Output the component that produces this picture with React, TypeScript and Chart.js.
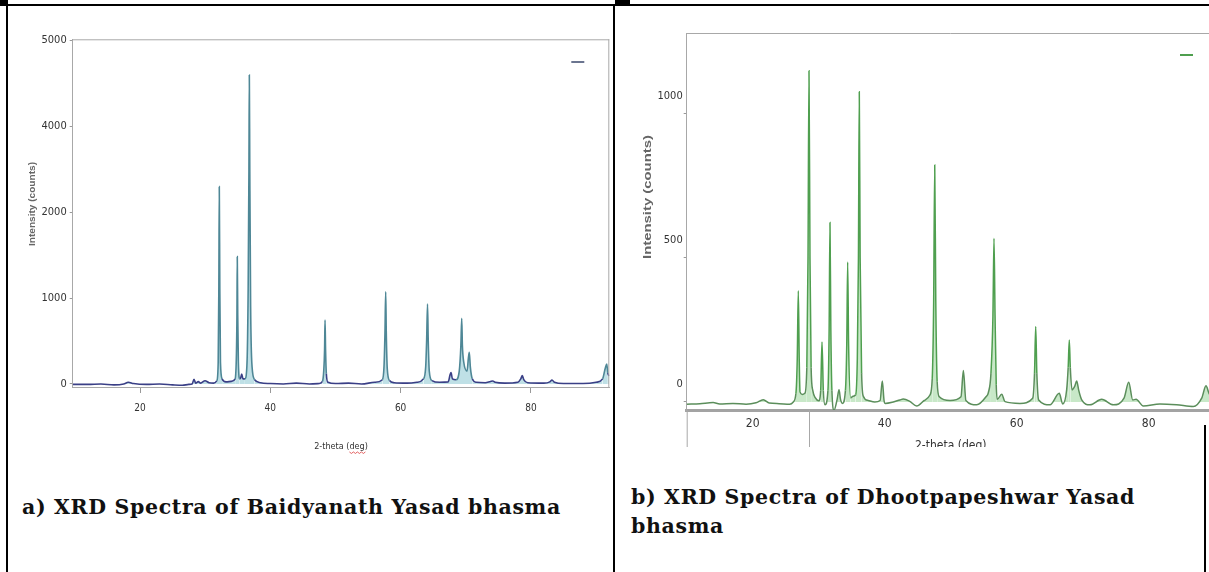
import React, { useEffect, useRef } from 'react';
import { Chart, registerables } from 'chart.js';

Chart.register(...registerables);

// ---------- Panel a: Baidyanath Yasad bhasma ----------
const aTheta = [
  9.7, 12, 14, 16, 17.5, 18.2, 19, 21, 23, 25, 26.5, 27.5, 28.0, 28.29, 28.55, 28.95, 29.3, 29.98, 30.6, 31.3,
  31.8, 32.0, 32.1, 32.17, 32.25, 32.35, 32.6, 33.2, 34.0, 34.6, 34.8, 34.88, 34.93, 35.0, 35.1, 35.3, 35.45,
  35.61, 35.8, 36.1, 36.4, 36.6, 36.72, 36.78, 36.85, 36.98, 37.2, 37.6, 38.5, 40, 42, 44, 46, 47.5, 48.0, 48.2,
  48.33, 48.4, 48.48, 48.6, 48.85, 50, 52, 54, 56, 57.2, 57.45, 57.6, 57.71, 57.8, 57.95, 58.3, 59, 61, 62.5,
  63.5, 63.85, 64.0, 64.13, 64.24, 64.4, 64.8, 66, 67.3, 67.6, 67.74, 67.95, 68.5, 69.0, 69.25, 69.38, 69.48,
  69.7, 70.2, 70.4, 70.54, 70.7, 71.0, 71.6, 73, 73.8, 74.14, 74.5, 76, 78, 78.45, 78.68, 78.9, 79.5, 82, 82.9,
  83.24, 83.6, 85, 88, 90, 91.0, 91.4, 91.63, 91.8, 92,
];
const aCounts = [
  -5, -5, 0, -10, 0, 20, 5, -5, 0, -10, -15, -5, 0, 55, 10, 27, 10, 38, 15, 10,
  40, 250, 1100, 2297, 1100, 250, 60, 25, 30, 60, 350, 800, 1482, 800, 250, 60, 70,
  116, 60, 60, 200, 1100, 2500, 3597, 2500, 900, 200, 50, 15, 5, 0, 10, 0, 5, 30, 150,
  400, 745, 400, 120, 20, 5, 10, 0, 20, 50, 200, 600, 1074, 600, 180, 40, 15, 10, 20,
  60, 200, 520, 931, 500, 150, 40, 20, 25, 110, 132, 60, 50, 150, 450, 765, 450,
  250, 150, 300, 369, 200, 60, 20, 15, 30, 35, 20, 10, 20, 60, 97, 50, 15, 10, 25,
  47, 20, 5, 5, 20, 60, 180, 233, 130, 93,
];
const aXTicks = [20, 40, 60, 80];
const aYTickValues = [0, 1000, 2000, 3000, 4000];
const aYTickLabels = ['0', '1000', '2000', '4000', '5000'];

// ---------- Panel b: Dhootpapeshwar Yasad bhasma ----------
const bTheta = [
  10, 12, 14, 15, 17, 19, 20.5, 21.6, 22.5, 24, 25.6, 26.15, 26.55, 26.75, 26.91, 27.05, 27.17, 27.5, 27.9,
  28.2, 28.38, 28.53, 28.68, 28.85, 29.1, 29.5, 30.0, 30.3, 30.5, 30.7, 30.96, 31.4, 31.58, 31.71, 31.84, 32.0,
  32.33, 32.8, 33.08, 33.3, 33.6, 34.05, 34.25, 34.39, 34.53, 34.85, 35.2, 35.6, 35.85, 36.02, 36.15, 36.28,
  36.5, 36.76, 37.5, 38.5, 39.3, 39.64, 39.9, 40.05, 41.3, 42.3, 42.8, 43.8, 44.85, 46.0, 46.86, 47.2, 47.42,
  47.58, 47.74, 47.95, 48.27, 49.9, 51.56, 51.92, 52.3, 53.94, 55.35, 55.7, 56.1, 56.4, 56.56, 56.72, 56.9,
  57.06, 57.73, 58.23, 60.5, 62.42, 62.7, 62.88, 63.05, 63.33, 65.05, 66.45, 66.97, 67.57, 67.8, 67.97, 68.12,
  68.38, 68.8, 69.09, 69.4, 69.85, 71.1, 72.88, 74.64, 76.26, 76.97, 77.58, 78.08, 79.18, 81.7, 84.24, 86.76,
  88.03, 88.68, 89.14, 90,
];
const bCounts = [
  -8, -6, -2, -7, -5, -8, -3, 8, -4, -6, -8, 0, 30, 150, 386, 150, 35, 26, 30,
  120, 500, 1150, 500, 120, 40, 14, 4, 40, 208, 40, -10, 40, 250, 623, 250, 40,
  -28, 10, 42, 10, -5, 40, 200, 486, 200, 14, 20, 25, 150, 500, 1077, 500,
  100, 20, 5, 0, 5, 73, 5, -5, 0, 7, 10, 2, -14, 5, 24, 80, 350,
  823, 350, 70, 18, 5, 18, 109, 5, -10, 18, 32, 100, 300, 568, 300, 60,
  9, 27, 1, -5, 13, 100, 262, 100, 7, -10, 30, -7, 42, 120, 215, 120,
  42, 55, 73, 40, 7, -10, 9, -10, 13, 68, 7, 9, -14, -7, -10, -16,
  13, 56, 30, 0,
];
const bXTicks = [20, 40, 60, 80];
const bYTickValues = [0, 500, 1000];
const bYTickLabels = ['0', '500', '1000'];
const bCursorTheta = 28.5;

const captionA = 'a) XRD Spectra of Baidyanath Yasad bhasma';
const captionB = 'b) XRD Spectra of Dhootpapeshwar Yasad bhasma';
const xTitle = '2-theta (deg)';
const yTitle = 'Intensity (counts)';

const NARROW = "'Liberation Sans Narrow', 'DejaVu Sans Condensed', 'Liberation Sans', sans-serif";
const SANS = "'Liberation Sans', Arial, sans-serif";

type PanelCfg = {
  theta: number[];
  counts: number[];
  xMin: number;
  xMax: number;
  yMin: number;
  yMax: number;
  xTicks: number[];
  yTickValues: number[];
  yTickLabels: string[];
  yAxisWidth: number;
  xAxisHeight: number;
  padding: { left: number; right: number; top: number; bottom: number };
  lineColor: string;
  peakColor: string;
  fillColor: string;
  lineWidth: number;
  legendColor: string;
  legendOffsetRight: number;
  legendOffsetTop: number;
  xTickFont: number;
  xTickPad: number;
  xTickLen: number;
  yTickFont: number;
  yTickPad: number;
  yLabelOffset: number;
  xTitleFont: number;
  xTitlePadBottom: number;
  yTitleFont: number;
  yTitleX: number;
  yTitleCenterY: number;
  yTitleStretch: number;
  xBorderWidth: number;
  xBorderColor: string;
  frameRight: boolean;
  cursorTheta: number | null;
  extendLeftAxis: boolean;
  squiggle: boolean;
};

function makeConfig(p: PanelCfg): any {
  const data = p.theta.map((t, i) => ({ x: t, y: p.counts[i] }));
  const decor = {
    id: 'decor',
    afterDraw(chart: any) {
      const { ctx, chartArea } = chart;
      const xs = chart.scales.x;
      ctx.save();
      ctx.strokeStyle = '#a8a8a8';
      ctx.lineWidth = 1;
      ctx.beginPath();
      ctx.moveTo(chartArea.left, chartArea.top + 0.5);
      ctx.lineTo(chartArea.right, chartArea.top + 0.5);
      if (p.frameRight) {
        ctx.moveTo(chartArea.right - 0.5, chartArea.top);
        ctx.lineTo(chartArea.right - 0.5, chartArea.bottom);
      }
      if (p.extendLeftAxis) {
        ctx.moveTo(chartArea.left + 0.5, chartArea.bottom);
        ctx.lineTo(chartArea.left + 0.5, chart.height);
      }
      if (p.cursorTheta !== null) {
        const cx = Math.round(xs.getPixelForValue(p.cursorTheta)) + 0.5;
        ctx.moveTo(cx, chartArea.bottom);
        ctx.lineTo(cx, chart.height);
      }
      ctx.stroke();
      // legend swatch (empty-label legend of the original)
      ctx.strokeStyle = p.legendColor;
      ctx.lineWidth = 2;
      ctx.beginPath();
      const lx = chartArea.right - p.legendOffsetRight;
      const ly = chartArea.top + p.legendOffsetTop;
      ctx.moveTo(lx - 13, ly);
      ctx.lineTo(lx, ly);
      ctx.stroke();
      // rotated y-axis title
      ctx.fillStyle = '#666';
      ctx.font = `bold ${p.yTitleFont}px ${SANS}`;
      ctx.textAlign = 'center';
      ctx.textBaseline = 'middle';
      ctx.translate(p.yTitleX, p.yTitleCenterY);
      ctx.rotate(-Math.PI / 2);
      ctx.scale(p.yTitleStretch, 1);
      ctx.fillText(yTitle, 0, 0);
      ctx.setTransform(1, 0, 0, 1, 0, 0);
      // spell-check underline below "deg" of the x title
      if (p.squiggle) {
        ctx.font = `${p.xTitleFont}px ${NARROW}`;
        const full = ctx.measureText(xTitle).width;
        const pre = ctx.measureText('2-theta (').width;
        const w = ctx.measureText('deg').width;
        const cx = (chartArea.left + chartArea.right) / 2;
        const x0 = cx - full / 2 + pre;
        const y0 = chart.height - p.xTitlePadBottom - (p.xTitleFont * 1.2) / 2 + p.xTitleFont * 0.55;
        ctx.strokeStyle = 'rgba(220,60,60,0.8)';
        ctx.lineWidth = 1;
        ctx.beginPath();
        for (let k = 0; k <= Math.ceil(w / 2); k++) {
          const xx = x0 + k * 2;
          const yy = y0 + (k % 2 === 0 ? 0 : 1.5);
          if (k === 0) ctx.moveTo(xx, yy);
          else ctx.lineTo(xx, yy);
        }
        ctx.stroke();
      }
      ctx.restore();
    },
  };
  return {
    type: 'line',
    data: {
      datasets: [
        {
          label: '',
          data,
          borderColor: p.lineColor,
          borderWidth: p.lineWidth,
          pointRadius: 0,
          cubicInterpolationMode: 'monotone',
          fill: { target: { value: 0 }, above: p.fillColor, below: 'rgba(0,0,0,0)' },
          segment: {
            borderColor: (ctx: any) =>
              Math.max(ctx.p0.parsed.y, ctx.p1.parsed.y) > 140 ? p.peakColor : p.lineColor,
          },
        },
      ],
    },
    options: {
      responsive: false,
      animation: false,
      events: [],
      layout: { padding: p.padding },
      plugins: { legend: { display: false }, tooltip: { enabled: false } },
      scales: {
        x: {
          type: 'linear',
          min: p.xMin,
          max: p.xMax,
          afterBuildTicks: (scale: any) => {
            scale.ticks = p.xTicks.map((v) => ({ value: v }));
          },
          afterFit: (scale: any) => {
            scale.height = p.xAxisHeight;
          },
          grid: {
            drawOnChartArea: false,
            drawTicks: p.xTickLen > 0,
            tickLength: p.xTickLen,
            color: '#999',
          },
          border: { display: true, color: p.xBorderColor, width: p.xBorderWidth },
          ticks: {
            maxRotation: 0,
            autoSkip: false,
            padding: p.xTickPad,
            color: '#333',
            font: { family: NARROW, size: p.xTickFont },
            callback: (v: any) => String(v),
          },
          title: {
            display: true,
            text: xTitle,
            color: '#333',
            font: { family: NARROW, size: p.xTitleFont },
            padding: { top: 0, bottom: p.xTitlePadBottom },
          },
        },
        y: {
          type: 'linear',
          min: p.yMin,
          max: p.yMax,
          afterBuildTicks: (scale: any) => {
            scale.ticks = p.yTickValues.map((v) => ({ value: v }));
          },
          afterFit: (scale: any) => {
            scale.width = p.yAxisWidth;
          },
          grid: { drawOnChartArea: false, drawTicks: true, tickLength: 3, color: '#999' },
          border: { display: true, color: '#a8a8a8', width: 1 },
          ticks: {
            autoSkip: false,
            padding: p.yTickPad,
            labelOffset: p.yLabelOffset,
            color: '#333',
            font: { family: NARROW, size: p.yTickFont },
            callback: (v: any) => {
              const i = p.yTickValues.indexOf(v);
              return i >= 0 ? p.yTickLabels[i] : '';
            },
          },
          title: { display: false },
        },
      },
    },
    plugins: [decor],
  };
}

const panelA: PanelCfg = {
  theta: aTheta,
  counts: aCounts,
  xMin: 9.67,
  xMax: 92.03,
  yMin: -35,
  yMax: 4012,
  xTicks: aXTicks,
  yTickValues: aYTickValues,
  yTickLabels: aYTickLabels,
  yAxisWidth: 72.7,
  xAxisHeight: 75,
  padding: { left: 0, right: 4.7, top: 39.3, bottom: 0 },
  lineColor: '#3a3f86',
  peakColor: '#4e8796',
  fillColor: 'rgba(170,214,222,0.75)',
  lineWidth: 1.6,
  legendColor: '#6b7590',
  legendOffsetRight: 25,
  legendOffsetTop: 22.7,
  xTickFont: 10,
  xTickPad: 9,
  xTickLen: 6,
  yTickFont: 11,
  yTickPad: 3,
  yLabelOffset: 0,
  xTitleFont: 9,
  xTitlePadBottom: 9.6,
  yTitleFont: 9,
  yTitleX: 33,
  yTitleCenterY: 204,
  yTitleStretch: 1.12,
  xBorderWidth: 1,
  xBorderColor: '#a8a8a8',
  frameRight: true,
  cursorTheta: null,
  extendLeftAxis: false,
  squiggle: true,
};

const panelB: PanelCfg = {
  theta: bTheta,
  counts: bCounts,
  xMin: 10,
  xMax: 90,
  yMin: -28,
  yMax: 1281,
  xTicks: bXTicks,
  yTickValues: bYTickValues,
  yTickLabels: bYTickLabels,
  yAxisWidth: 69.7,
  xAxisHeight: 60,
  padding: { left: 0, right: 2.3, top: 33, bottom: 0 },
  lineColor: '#5b8e5b',
  peakColor: '#4f9f4f',
  fillColor: 'rgba(176,222,176,0.7)',
  lineWidth: 1.5,
  legendColor: '#4f9f4f',
  legendOffsetRight: 21.7,
  legendOffsetTop: 22,
  xTickFont: 12,
  xTickPad: 6.8,
  xTickLen: 0,
  yTickFont: 11,
  yTickPad: 1,
  yLabelOffset: -18,
  xTitleFont: 12,
  xTitlePadBottom: 16.8,
  yTitleFont: 11,
  yTitleX: 31,
  yTitleCenterY: 197,
  yTitleStretch: 1.35,
  xBorderWidth: 3,
  xBorderColor: '#a3a3a3',
  frameRight: false,
  cursorTheta: bCursorTheta,
  extendLeftAxis: true,
  squiggle: false,
};

function Panel(props: { cfg: PanelCfg; width: number; height: number }) {
  const ref = useRef<HTMLCanvasElement | null>(null);
  useEffect(() => {
    if (!ref.current) return;
    const chart = new Chart(ref.current, makeConfig(props.cfg));
    return () => chart.destroy();
  }, []);
  return (
    <canvas
      ref={ref}
      width={props.width}
      height={props.height}
      style={{ display: 'block', width: props.width, height: props.height }}
    />
  );
}

const line = (left: number, top: number, width: number, height: number): React.CSSProperties => ({
  position: 'absolute',
  left,
  top,
  width,
  height,
  background: '#000',
});

export default function App() {
  const capStyle: React.CSSProperties = {
    position: 'absolute',
    fontFamily: "'DejaVu Serif', serif",
    fontWeight: 'bold',
    fontSize: 20.5,
    letterSpacing: '0.65px',
    lineHeight: '29px',
    color: '#111',
    whiteSpace: 'normal',
  };
  return (
    <div
      style={{
        position: 'fixed',
        left: 0,
        top: 0,
        width: 1209,
        height: 572,
        overflow: 'hidden',
        background: '#fff',
      }}
    >
      <div style={{ position: 'absolute', left: 0, top: 0, width: 614, height: 462, overflow: 'hidden' }}>
        <Panel cfg={panelA} width={614} height={462} />
      </div>
      <div style={{ position: 'absolute', left: 617, top: 0, width: 600, height: 447, overflow: 'hidden' }}>
        <Panel cfg={panelB} width={600} height={470} />
      </div>
      <div style={line(6, 4, 1203, 2)} />
      <div style={line(0, 0, 8, 6)} />
      <div style={line(6, 4, 2, 568)} />
      <div style={line(613, 4, 2, 568)} />
      <div style={line(615, 0, 15, 5)} />
      <div style={line(1204, 425, 2, 147)} />
      <div style={{ ...capStyle, left: 22, top: 493, width: 590 }}>{captionA}</div>
      <div style={{ ...capStyle, left: 631, top: 483, width: 568 }}>{captionB}</div>
    </div>
  );
}
